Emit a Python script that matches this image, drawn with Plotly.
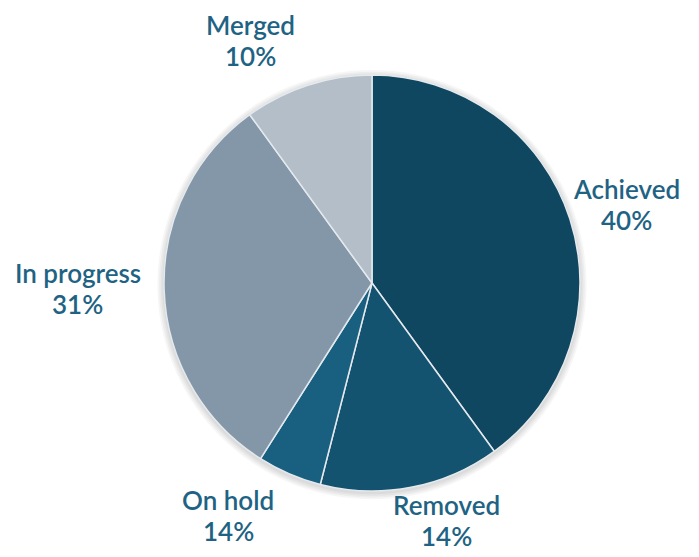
import plotly.graph_objects as go

# Dados do gráfico
categorias = ["Achieved", "Removed", "On hold", "In progress", "Merged"]
valores = [40, 14, 5, 31, 10]
rotulos_pct = ["40%", "14%", "14%", "31%", "10%"]
cores = ["#0f4660", "#13536f", "#185f80", "#8497a8", "#b3bec9"]

# Posição dos rótulos (coordenadas "paper" do centro de cada bloco de texto)
pos_rotulos = [(1.111, 0.688), (0.678, -0.072), (0.154, -0.058),
               (-0.207, 0.486), (0.207, 1.084)]

fonte = dict(family="Lato", size=26, color="#1f6384", weight=600)

fig = go.Figure(go.Pie(
    labels=categorias,
    values=valores,
    textinfo="none",
    sort=False,
    direction="clockwise",
    rotation=0,
    marker=dict(colors=cores, line=dict(color="#e4e9ed", width=1.5)),
    hoverinfo="label+percent",
    showlegend=False,
))

# Sombra suave ao redor da pizza
for i in range(4):
    d = 0.004 * (i + 1)
    fig.add_shape(
        type="circle", xref="paper", yref="paper", layer="below",
        x0=-d, x1=1 + d, y0=-d - 0.004, y1=1 + d - 0.004,
        line=dict(width=0), fillcolor="rgba(0,0,0,0.035)",
    )

# Rótulos: nome e percentual em duas linhas
for (x, y), nome, pct in zip(pos_rotulos, categorias, rotulos_pct):
    for txt, desl in [(nome, 15.5), (pct, -15.5)]:
        fig.add_annotation(text=txt, x=x, y=y, xref="paper", yref="paper",
                           showarrow=False, font=fonte, xanchor="center",
                           yanchor="middle", yshift=desl)

fig.update_layout(
    width=699,
    height=557,
    margin=dict(l=156, r=127, t=67, b=74),
    paper_bgcolor="white",
    plot_bgcolor="white",
)

fig.write_html("out.html")
